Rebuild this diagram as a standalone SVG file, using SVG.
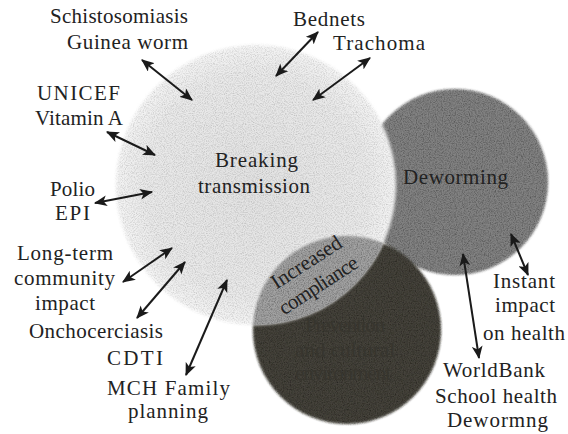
<svg xmlns="http://www.w3.org/2000/svg" width="568" height="434" viewBox="0 0 568 434">
  <defs>
    <style>
      .lbl { font-family: "Liberation Serif", "DejaVu Serif", serif; font-size: 21px; fill: #222; }
      .in { font-family: "Liberation Serif", "DejaVu Serif", serif; font-size: 21px; }
      .arrow { stroke: #1a1a1a; stroke-width: 2; fill: none; marker-start: url(#head); marker-end: url(#head); }
    </style>
    <marker id="head" viewBox="0 0 12 10" refX="11" refY="5" markerWidth="13" markerHeight="11" markerUnits="userSpaceOnUse" orient="auto-start-reverse">
      <path d="M0,0 L12,5 L0,10 L3,5 Z" fill="#1a1a1a"/>
    </marker>
    <radialGradient id="lightGrad" cx="0.5" cy="0.5" r="0.5">
      <stop offset="0" stop-color="#e2e2e2"/>
      <stop offset="0.8" stop-color="#e9e9e9"/>
      <stop offset="1" stop-color="#f4f4f4"/>
    </radialGradient>
    <filter id="grain" x="-5%" y="-5%" width="110%" height="110%">
      <feTurbulence type="fractalNoise" baseFrequency="0.85" numOctaves="2" seed="4" result="t"/>
      <feColorMatrix in="t" type="matrix" values="0 0 0 0 0  0 0 0 0 0  0 0 0 0 0  1.2 0 0 0 -0.45" result="dots"/>
      <feGaussianBlur in="SourceGraphic" stdDeviation="0.8" result="src"/>
      <feComposite in="dots" in2="src" operator="in" result="d2"/>
      <feMerge><feMergeNode in="src"/><feMergeNode in="d2"/></feMerge>
    </filter>
    <filter id="grainLight" x="-5%" y="-5%" width="110%" height="110%">
      <feTurbulence type="fractalNoise" baseFrequency="0.9" numOctaves="2" seed="7" result="t"/>
      <feColorMatrix in="t" type="matrix" values="0 0 0 0 0  0 0 0 0 0  0 0 0 0 0  0.7 0 0 0 -0.28" result="dots"/>
      <feGaussianBlur in="SourceGraphic" stdDeviation="1.5" result="src"/>
      <feComposite in="dots" in2="src" operator="in" result="d2"/>
      <feMerge><feMergeNode in="src"/><feMergeNode in="d2"/></feMerge>
    </filter>
    <clipPath id="lightClip"><circle cx="256" cy="185" r="140"/></clipPath>
  </defs>

  <rect width="568" height="434" fill="#ffffff"/>

  <g id="deworming">
    <circle cx="455" cy="182" r="93" fill="#828282" filter="url(#grain)"/>
  </g>
  <g id="prevention">
    <circle cx="347" cy="330" r="94" fill="#44423a" filter="url(#grain)"/>
    <text class="in" fill="#37352e" x="345" y="332" text-anchor="middle" textLength="80">Prevention</text>
    <text class="in" fill="#37352e" x="345" y="357" text-anchor="middle" textLength="100">and cultural</text>
    <text class="in" fill="#37352e" x="343" y="380" text-anchor="middle" textLength="96">environment</text>
  </g>
  <g id="breaking">
    <circle cx="256" cy="185" r="140" fill="url(#lightGrad)" filter="url(#grainLight)"/>
    <text class="lbl" x="215" y="167" textLength="83">Breaking</text>
    <text class="lbl" x="198" y="193" textLength="112">transmission</text>
  </g>
  <g id="compliance">
    <circle cx="347" cy="330" r="94" fill="#a2a2a2" clip-path="url(#lightClip)" filter="url(#grain)"/>
    <text class="lbl" fill="#2a2a2a" transform="translate(310,268) rotate(-33)" text-anchor="middle" textLength="80">Increased</text>
    <text class="lbl" fill="#2a2a2a" transform="translate(322,291) rotate(-33)" text-anchor="middle" textLength="90">compliance</text>
  </g>
  <g id="deworming-label">
    <text class="lbl" fill="#2e2e2e" x="403" y="184" textLength="105">Deworming</text>
  </g>

  <g id="connectors">
    <line class="arrow" x1="142" y1="60" x2="192" y2="100"/>
    <line class="arrow" x1="107" y1="132" x2="155" y2="155"/>
    <line class="arrow" x1="95" y1="203" x2="152" y2="192"/>
    <line class="arrow" x1="276" y1="76" x2="318" y2="32"/>
    <line class="arrow" x1="313" y1="100" x2="370" y2="58"/>
    <line class="arrow" x1="123" y1="282" x2="172" y2="248"/>
    <line class="arrow" x1="137" y1="318" x2="185" y2="262"/>
    <line class="arrow" x1="186" y1="375" x2="227" y2="280"/>
    <line class="arrow" x1="511" y1="234" x2="528" y2="275"/>
    <line class="arrow" x1="463" y1="254" x2="479" y2="358"/>
  </g>

  <g id="schistosomiasis">
    <text class="lbl" x="50" y="23" textLength="138">Schistosomiasis</text>
    <text class="lbl" x="67" y="49" textLength="121">Guinea worm</text>
  </g>
  <g id="unicef">
    <text class="lbl" x="37" y="100" textLength="83">UNICEF</text>
    <text class="lbl" x="35" y="125" textLength="88">Vitamin A</text>
  </g>
  <g id="polio">
    <text class="lbl" x="50" y="196" textLength="45">Polio</text>
    <text class="lbl" x="55" y="220" textLength="35">EPI</text>
  </g>
  <g id="longterm">
    <text class="lbl" x="17" y="260" textLength="96">Long-term</text>
    <text class="lbl" x="14" y="285" textLength="101">community</text>
    <text class="lbl" x="35" y="310" textLength="60">impact</text>
  </g>
  <g id="oncho">
    <text class="lbl" x="29" y="338" textLength="134">Onchocerciasis</text>
    <text class="lbl" x="107" y="365" textLength="56">CDTI</text>
  </g>
  <g id="mch">
    <text class="lbl" x="107" y="395" textLength="123">MCH Family</text>
    <text class="lbl" x="128" y="418" textLength="80">planning</text>
  </g>
  <g id="bednets">
    <text class="lbl" x="293" y="26" textLength="72">Bednets</text>
  </g>
  <g id="trachoma">
    <text class="lbl" x="333" y="50" textLength="92">Trachoma</text>
  </g>
  <g id="instant">
    <text class="lbl" x="493" y="288" textLength="62">Instant</text>
    <text class="lbl" x="495" y="312" textLength="60">impact</text>
    <text class="lbl" x="483" y="340" textLength="82">on health</text>
  </g>
  <g id="worldbank">
    <text class="lbl" x="443" y="377" textLength="102">WorldBank</text>
    <text class="lbl" x="435" y="403" textLength="122">School health</text>
    <text class="lbl" x="447" y="427" textLength="101">Dewormng</text>
  </g>
</svg>
